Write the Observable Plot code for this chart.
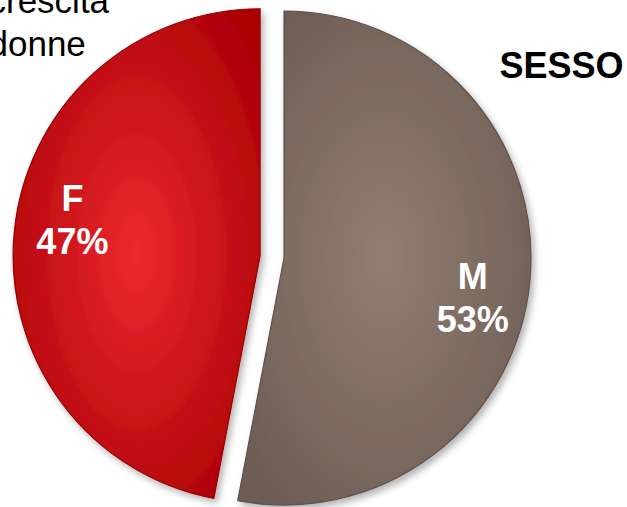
<!DOCTYPE html>
<html><head><meta charset="utf-8">
<script src="https://cdn.jsdelivr.net/npm/d3@7"></script>
<script src="https://cdn.jsdelivr.net/npm/@observablehq/plot@0.6"></script>
<style>html,body{margin:0;padding:0;background:#fff;overflow:hidden}</style>
</head><body><div id="chart"></div>
<script>
// ---- data ----
const categories = ["M", "F"];
const values = [53, 47];
const percentLabels = ["53%", "47%"];
const cornerText = ["crescita", "donne"];
const title = "SESSO";

// ---- layout / style ----
const W = 627, H = 507;
const CX = 284, CY = 258, R = 247, EXPLODE = 24, LABEL_R = 192, LABEL_ROT = 6 * Math.PI / 180;
const FONT = "Arial, 'Liberation Sans', sans-serif";
const grad = {
  M: {inner: "#927e72", outer: "#6c5d54", stroke: "#5f5249"},
  F: {inner: "#ec2a30", outer: "#ac0006", stroke: "#980000"}
};

const data = categories.map((c, i) => ({category: c, value: values[i], label: percentLabels[i]}));
const arcs = d3.pie().sort(null).value(d => d.value)(data);
const midAngle = a => (a.startAngle + a.endAngle) / 2;
const offsetOf = a => {
  const m = midAngle(a), e = a.data.category === "F" ? EXPLODE : 0;
  return [Math.sin(m) * e, -Math.cos(m) * e];
};
const labelData = arcs.map(a => {
  const [ox, oy] = offsetOf(a);
  const m = midAngle(a) + LABEL_ROT;
  return {x: CX + ox + Math.sin(m) * LABEL_R, y: CY + oy - Math.cos(m) * LABEL_R,
          text: a.data.category + "\n" + a.data.label};
});

const arcGen = d3.arc().innerRadius(0).outerRadius(R);

function pieMark(index, scales) {
  const sx = scales && scales.x ? scales.x : (v => v);
  const sy = scales && scales.y ? scales.y : (v => v);
  const g = d3.create("svg:g");
  const defs = g.append("defs");
  const f = defs.append("filter").attr("id", "shadow")
    .attr("x", "-10%").attr("y", "-10%").attr("width", "125%").attr("height", "125%");
  f.append("feDropShadow").attr("dx", 3).attr("dy", 4).attr("stdDeviation", 3.5)
    .attr("flood-color", "#000").attr("flood-opacity", 0.3);
  for (const k of Object.keys(grad)) {
    const rg = defs.append("radialGradient").attr("id", "g" + k)
      .attr("cx", "50%").attr("cy", "50%").attr("r", "62%");
    rg.append("stop").attr("offset", "0%").attr("stop-color", grad[k].inner);
    rg.append("stop").attr("offset", "100%").attr("stop-color", grad[k].outer);
  }
  for (const a of arcs) {
    const [ox, oy] = offsetOf(a);
    const k = a.data.category;
    g.append("path")
      .attr("transform", `translate(${sx(CX + ox)},${sy(CY + oy)})`)
      .attr("d", arcGen(a))
      .attr("fill", `url(#g${k})`)
      .attr("stroke", grad[k].stroke)
      .attr("stroke-width", 1.2)
      .attr("stroke-linejoin", "round")
      .attr("filter", "url(#shadow)");
  }
  return g.node();
}

const chart = Plot.plot({
  width: W, height: H, margin: 0,
  x: {domain: [0, W], range: [0, W], axis: null},
  y: {domain: [0, H], range: [0, H], axis: null},
  style: {background: "white", overflow: "hidden"},
  marks: [
    pieMark,
    Plot.text(labelData, {x: "x", y: "y", text: "text", fill: "white", fontSize: 36,
      fontWeight: "bold", fontFamily: FONT, lineHeight: 1.2, lineAnchor: "middle"}),
    Plot.text([cornerText.join("\n")], {frameAnchor: "top-left", dx: -12, dy: -18,
      text: d => d, textAnchor: "start", lineAnchor: "top", fontSize: 35,
      fontFamily: FONT, fill: "#000", lineHeight: 1.23}),
    Plot.text([title], {frameAnchor: "top-right", dx: -4, dy: 52, text: d => d,
      textAnchor: "end", lineAnchor: "top", fontSize: 36, fontWeight: "bold",
      fontFamily: FONT, fill: "#000"})
  ]
});
document.getElementById("chart").appendChild(chart);
</script>
</body></html>
